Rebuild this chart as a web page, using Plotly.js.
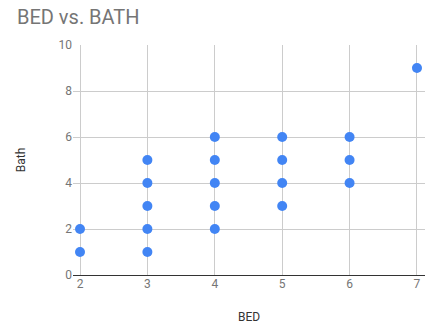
<!DOCTYPE html>
<html>
<head>
<meta charset="utf-8">
<script src="https://cdn.plot.ly/plotly-3.0.1.min.js"></script>
<style>html,body{margin:0;padding:0;background:#fff;}#chart{width:435px;height:329px;}</style>
</head>
<body>
<div id="chart"></div>
<script>
const bed  = [2, 2, 3, 3, 3, 3, 3, 4, 4, 4, 4, 4, 5, 5, 5, 5, 6, 6, 6, 7];
const bath = [1, 2, 1, 2, 3, 4, 5, 2, 3, 4, 5, 6, 3, 4, 5, 6, 4, 5, 6, 9];
const xTicks = [2, 3, 4, 5, 6, 7];
const yTicks = [0, 2, 4, 6, 8, 10];

const trace = {
  x: bed, y: bath, type: 'scatter', mode: 'markers',
  marker: {color: '#4285F4', size: 10},
  hoverinfo: 'none'
};
const layout = {
  width: 435, height: 329,
  margin: {l: 73, r: 10, t: 45, b: 54},
  paper_bgcolor: '#fff', plot_bgcolor: '#fff',
  font: {family: 'Roboto, Arial, sans-serif', color: '#757575', size: 12},
  title: {text: 'BED vs. BATH', x: 0.039, xanchor: 'left', y: 0.947, yanchor: 'middle',
          font: {size: 20, color: '#757575', family: 'Roboto, Arial, sans-serif'}},
  showlegend: false,
  xaxis: {
    range: [1.896, 7.119], tickvals: xTicks, ticktext: xTicks.map(String),
    showgrid: true, gridcolor: '#cccccc', zeroline: false, showline: false,
    ticks: '', tickfont: {size: 12, color: '#757575'},
    title: {text: 'BED', font: {size: 12, color: '#333'}, standoff: 22}
  },
  yaxis: {
    range: [0, 10], tickvals: yTicks, ticktext: yTicks.map(String),
    showgrid: true, gridcolor: '#cccccc', zeroline: true, zerolinecolor: '#333', zerolinewidth: 1,
    showline: false, ticks: '', tickfont: {size: 12, color: '#757575'},
    title: {text: 'Bath', font: {size: 12, color: '#333'}, standoff: 30}
  }
};
Plotly.newPlot('chart', [trace], layout, {staticPlot: true, displayModeBar: false});
</script>
</body>
</html>
